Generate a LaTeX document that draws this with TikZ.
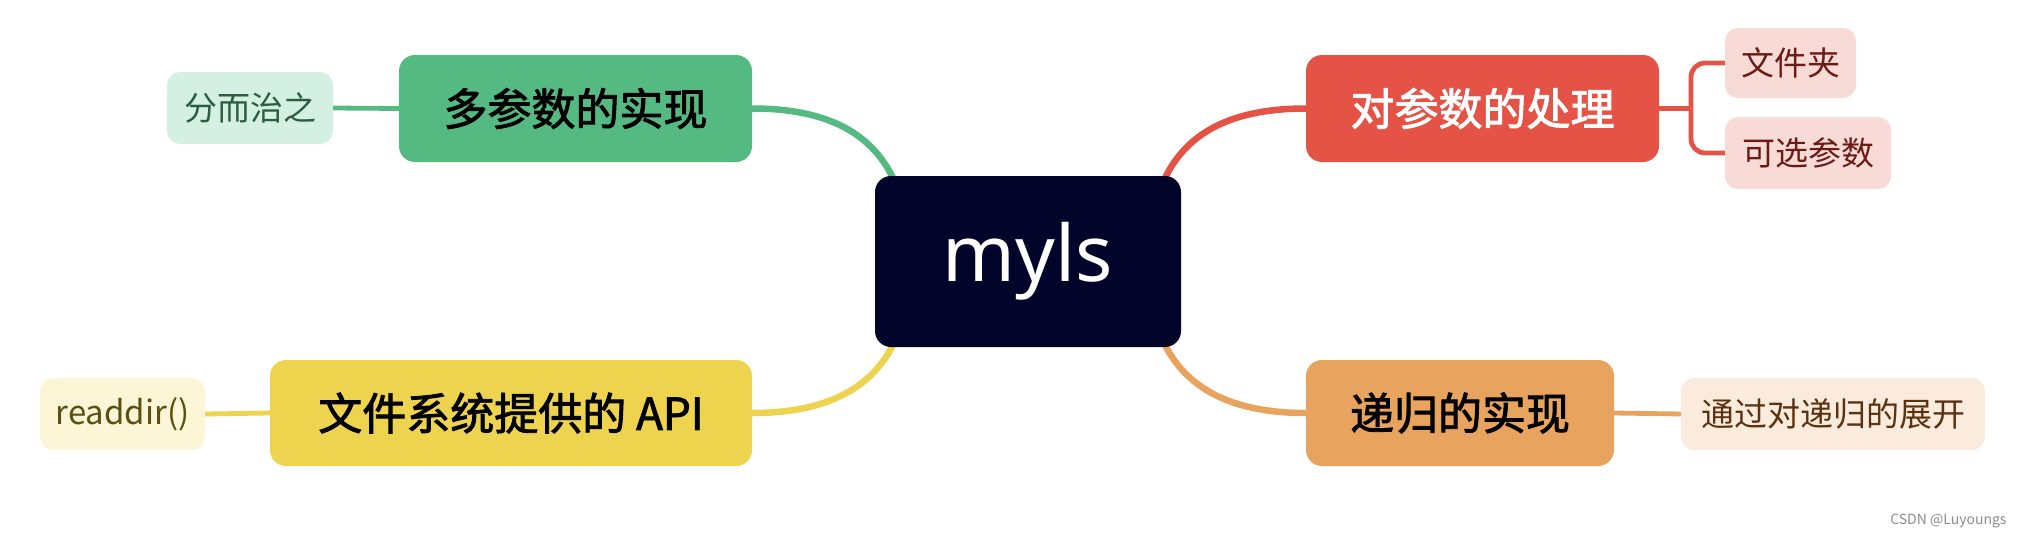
\documentclass[tikz,border=0pt]{standalone}
\usepackage{fontspec}
\setmainfont{Noto Sans CJK SC}
\newfontfamily\cjkm[FakeBold=2]{Noto Sans CJK SC}
\newfontfamily\latinf{Noto Sans}
\usetikzlibrary{backgrounds}
\definecolor{cnavy}{HTML}{020429}
\definecolor{cgreen}{HTML}{55B982}
\definecolor{cgreenl}{HTML}{D4F0E3}
\definecolor{cgreent}{HTML}{2B5E40}
\definecolor{cyel}{HTML}{EDD34E}
\definecolor{cyell}{HTML}{FDF6D6}
\definecolor{cyelt}{HTML}{5C4D10}
\definecolor{cred}{HTML}{E55346}
\definecolor{credl}{HTML}{F8DAD7}
\definecolor{credt}{HTML}{6B1C14}
\definecolor{corg}{HTML}{E8A45E}
\definecolor{corgl}{HTML}{FAEBDC}
\definecolor{corgt}{HTML}{5C3310}
\tikzset{
  mainbox/.style={rounded corners=16pt, inner sep=0pt, font=\cjkm\fontsize{44}{48}\selectfont},
  childbox/.style={rounded corners=13pt, inner sep=0pt, minimum height=72pt, font=\fontsize{33}{36}\selectfont},
  trunk/.style={line width=6.5pt},
  twig/.style={line width=4.8pt},
}
\begin{document}
\begin{tikzpicture}[x=1pt,y=-1pt]
\useasboundingbox (0,0) rectangle (2018,538);
% center
\node[fill=cnavy, rounded corners=16pt, minimum width=306pt, minimum height=171pt, text=white,
  font=\latinf\fontsize{78}{80}\selectfont] (c) at (1028,261.5) {myls};
% main nodes
\node[mainbox, fill=cgreen, minimum width=353pt, minimum height=107pt] (g) at (575.5,108.5) {多参数的实现};
\node[mainbox, fill=cyel, minimum width=482pt, minimum height=106pt] (y) at (511,413) {文件系统提供的 API};
\node[mainbox, fill=cred, text=white, minimum width=353pt, minimum height=107pt] (r) at (1482.5,108.5) {对参数的处理};
\node[mainbox, fill=corg, minimum width=308pt, minimum height=106pt] (o) at (1460,413) {递归的实现};
% children
\node[childbox, fill=cgreenl, text=cgreent, minimum width=166pt] (g1) at (250,108) {分而治之};
\node[childbox, fill=cyell, text=cyelt, minimum width=165pt] (y1) at (122.5,414) {readdir()};
\node[childbox, fill=credl, text=credt, minimum width=131pt, minimum height=70pt] (r1) at (1790.5,63) {文件夹};
\node[childbox, fill=credl, text=credt, minimum width=166pt] (r2) at (1808,153) {可选参数};
\node[childbox, fill=corgl, text=corgt, minimum width=304pt] (o1) at (1833,414) {通过对递归的展开};
% watermark
\node[text=black!45, font=\fontsize{14}{16}\selectfont, anchor=east] (wm) at (2010,521) {CSDN @Luyoungs};
% connection coordinates
\coordinate (cgl) at (893,178);
\coordinate (cyl) at (893,345);
\coordinate (crl) at (1165,178);
\coordinate (col) at (1165,345);
\coordinate (rj) at (1691,108.5);
\begin{scope}[on background layer]
\draw[trunk, cgreen] (g.east) .. controls (830,108.5) and (872,135) .. (cgl);
\draw[trunk, cyel] (y.east) .. controls (830,413) and (872,386) .. (cyl);
\draw[trunk, cred] (r.west) .. controls (1228,108.5) and (1186,135) .. (crl);
\draw[trunk, corg] (o.west) .. controls (1228,413) and (1186,386) .. (col);
\draw[twig, cgreen] (g.west) -- (g1.east);
\draw[twig, cyel] (y.west) -- (y1.east);
\draw[twig, corg] (o.east) -- (o1.west);
\draw[twig, cred] (r.east) -- (rj);
\draw[twig, cred, rounded corners=14pt] (r1.west) -| (rj);
\draw[twig, cred, rounded corners=14pt] (r2.west) -| (rj);
\end{scope}
\end{tikzpicture}
\end{document}
